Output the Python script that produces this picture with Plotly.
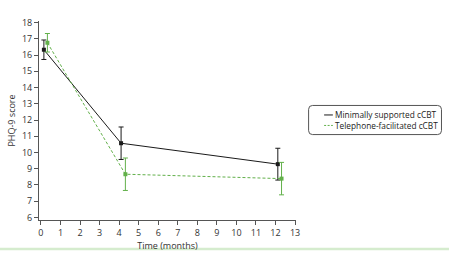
import plotly.graph_objects as go

series_names = ["Minimally supported cCBT", "Telephone-facilitated cCBT"]
x_min = [0.15, 4.1, 12.12]
y_min = [16.33, 10.57, 9.28]
e_min = [0.6, 1.0, 0.98]
x_tel = [0.33, 4.32, 12.31]
y_tel = [16.76, 8.66, 8.39]
e_tel = [0.57, 1.0, 1.0]
x_ticks = list(range(0, 14))
y_ticks = list(range(6, 19))

BLACK = "#1a1a1a"
GREEN = "#62b04a"
FONT = "Open Sans"
W, H = 449, 259
L, R, T, B = 31, 153, 21, 33
PW, PH = W - L - R, H - T - B


def px(x):
    return (x - L) / PW


def py(y):
    return (H - B - y) / PH


fig = go.Figure()
fig.add_trace(go.Scatter(
    x=x_min, y=y_min, name=series_names[0], mode="lines+markers",
    line=dict(color=BLACK, width=1),
    marker=dict(symbol="square", size=4, color=BLACK),
    error_y=dict(type="data", array=e_min, visible=True, color=BLACK, thickness=1, width=2.5),
))
fig.add_trace(go.Scatter(
    x=x_tel, y=y_tel, name=series_names[1], mode="lines+markers",
    line=dict(color=GREEN, width=1, dash="3px,2px"),
    marker=dict(symbol="square", size=4, color=GREEN),
    error_y=dict(type="data", array=e_tel, visible=True, color=GREEN, thickness=1, width=2.5),
))

axis_common = dict(
    showgrid=False, zeroline=False, showline=True, linecolor="#555555", linewidth=1,
    ticks="outside", ticklen=4, tickcolor="#555555", tickwidth=1,
    tickfont=dict(family=FONT, size=9, color="#333333"),
)
fig.update_xaxes(range=[-0.1, 13.05], tickvals=x_ticks, **axis_common,
                 title=dict(text="Time (months)", font=dict(family=FONT, size=9, color="#333333"), standoff=2))
fig.update_yaxes(range=[5.84, 18.1], tickvals=y_ticks, **axis_common,
                 title=dict(text="PHQ-9 score", font=dict(family=FONT, size=9, color="#333333"), standoff=4))

# manual legend (rounded box, short line samples)
x0, x1, y0, y1 = px(309), px(446), py(138), py(108)
r, ry = 4 / PW, 4 / PH
path = (f"M {x0+r},{y1} L {x1-r},{y1} Q {x1},{y1} {x1},{y1-ry} L {x1},{y0+ry} "
        f"Q {x1},{y0} {x1-r},{y0} L {x0+r},{y0} Q {x0},{y0} {x0},{y0+ry} "
        f"L {x0},{y1-ry} Q {x0},{y1} {x0+r},{y1} Z")
fig.add_shape(type="path", path=path, xref="paper", yref="paper",
              line=dict(color="#555555", width=1))
for name, color, dash, yy in [(series_names[0], BLACK, "solid", 117.8),
                              (series_names[1], GREEN, "2px,1.5px", 128.6)]:
    fig.add_shape(type="line", xref="paper", yref="paper", x0=px(325), x1=px(334),
                  y0=py(yy), y1=py(yy), line=dict(color=color, width=1, dash=dash))
    fig.add_annotation(text=name, xref="paper", yref="paper", x=px(335), y=py(yy),
                       xanchor="left", yanchor="middle", showarrow=False, borderpad=0,
                       font=dict(family=FONT, size=8.3, color="#222222"))

# bottom green rule
fig.add_shape(type="line", xref="paper", yref="paper", x0=px(-10), x1=px(460),
              y0=py(256), y1=py(256), line=dict(color="#d5ecce", width=2.5))

fig.update_layout(
    width=W, height=H,
    margin=dict(l=L, r=R, t=T, b=B),
    paper_bgcolor="white", plot_bgcolor="white",
    showlegend=False,
)
fig.write_html("out.html")
